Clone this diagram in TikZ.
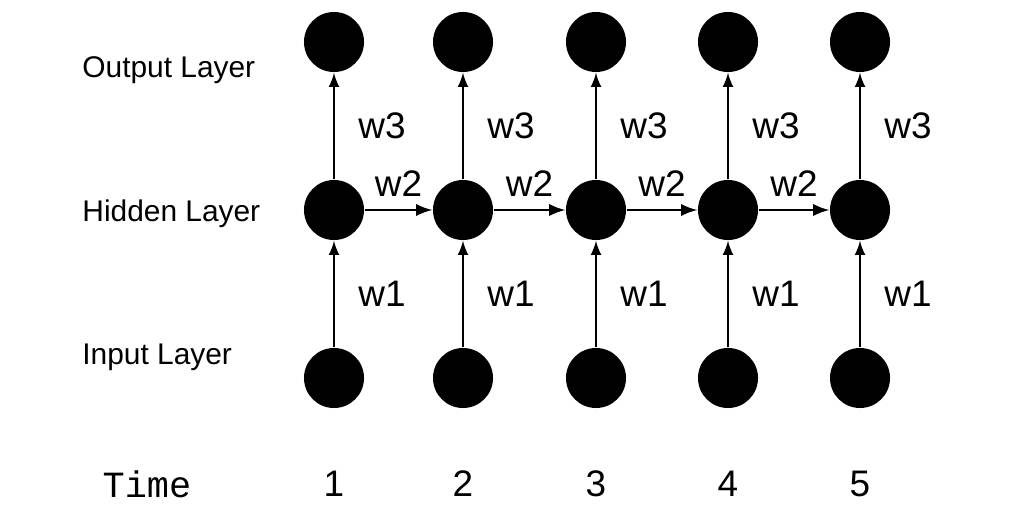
\documentclass[tikz,border=0pt]{standalone}
\usepackage{fontspec}
\setmainfont{Liberation Sans}
\setmonofont{Liberation Mono}
\usetikzlibrary{positioning}
\tikzset{
  unit/.style={circle,fill=black,minimum size=0.6cm,inner sep=0pt},
  layer/.style={font=\fontsize{8.5}{10}\selectfont,anchor=west},
  wlab/.style={font=\fontsize{10.5}{12}\selectfont},
  link/.style={-latex,thin},
}
\begin{document}
\begin{tikzpicture}[x=0.01cm,y=-0.01cm]
	\useasboundingbox (0,0) rectangle (1018,509);
	\node[layer] at (70,70) {Output Layer};
	\node[layer] at (70,214) {Hidden Layer};
	\node[layer] at (70,357) {Input Layer};
	\node[font=\ttfamily\fontsize{10.5}{12}\selectfont] at (147,484) {Time};
	\foreach \i/\x in {1/334,2/463,3/596,4/728,5/860} {
		\node[unit] (o\i) at (\x,42) {};
		\node[unit] (h\i) at (\x,210) {};
		\node[unit] (in\i) at (\x,378) {};
		\node[wlab] at (\x,484) {\i};
		\draw[link] (in\i) -- (h\i) node[wlab,midway,right=0.12cm] {w1};
		\draw[link] (h\i) -- (o\i) node[wlab,midway,right=0.12cm] {w3};
	}
	\foreach \i/\j in {1/2,2/3,3/4,4/5}
		\draw[-latex,semithick] (h\i) -- (h\j) node[wlab,midway,above=0.01cm] {w2};
\end{tikzpicture}
\end{document}
